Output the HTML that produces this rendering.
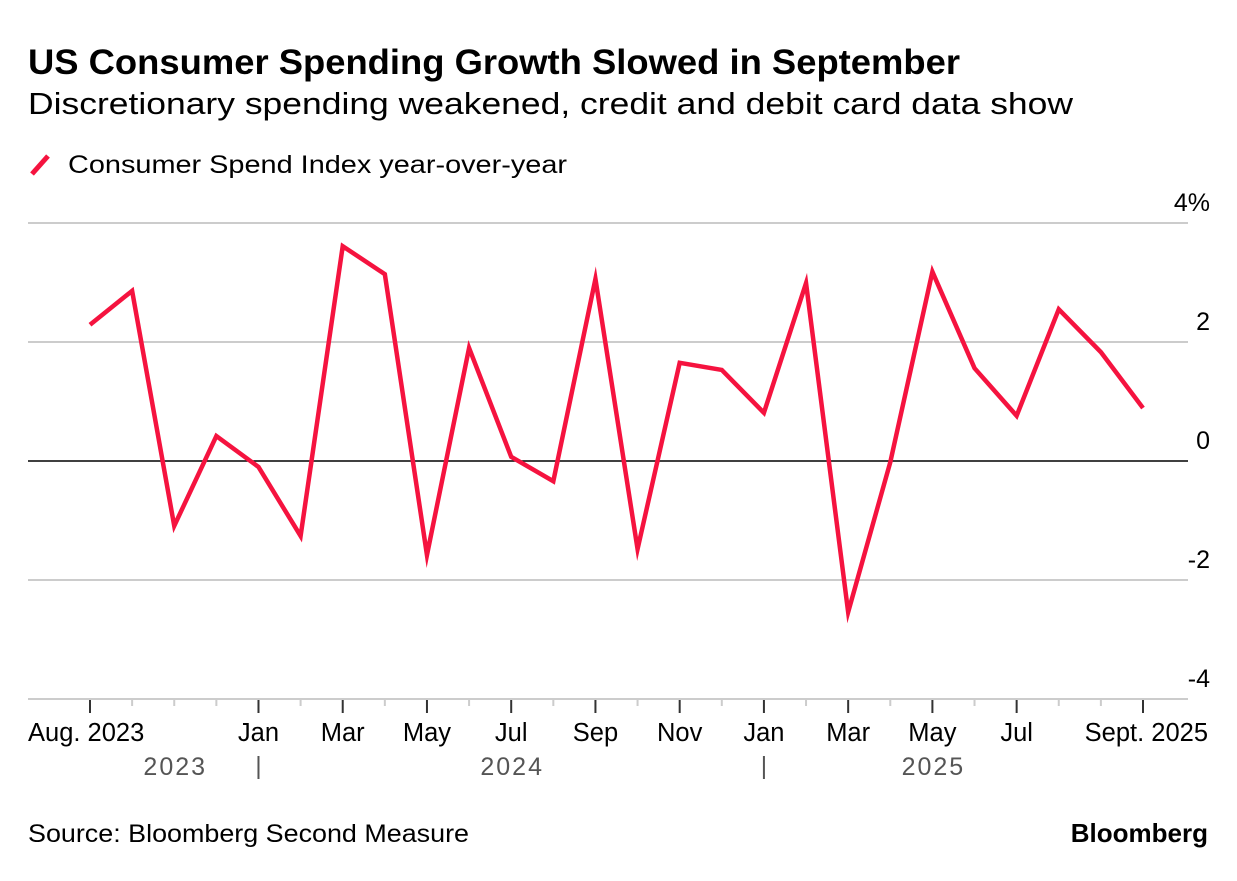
<!DOCTYPE html>
<html><head><meta charset="utf-8"><style>
body{margin:0;background:#fff;width:1237px;height:876px;overflow:hidden;font-family:"Liberation Sans",sans-serif;}
</style></head><body>
<svg width="1237" height="876" xmlns="http://www.w3.org/2000/svg" font-family="Liberation Sans, sans-serif">
<text x="28" y="74" font-size="35" font-weight="bold" fill="#000" textLength="932" lengthAdjust="spacingAndGlyphs">US Consumer Spending Growth Slowed in September</text>
<text x="28" y="114" font-size="31" fill="#000" textLength="1045" lengthAdjust="spacingAndGlyphs">Discretionary spending weakened, credit and debit card data show</text>
<line x1="32" y1="174" x2="48" y2="156" stroke="#f5133f" stroke-width="5"/>
<text x="68" y="173" font-size="25" fill="#000" textLength="499" lengthAdjust="spacingAndGlyphs">Consumer Spend Index year-over-year</text>
<g id="grid"></g>
<g id="xaxis"></g>
<g id="series"></g>
<text x="28" y="842" font-size="25" fill="#000" textLength="441" lengthAdjust="spacingAndGlyphs">Source: Bloomberg Second Measure</text>
<text x="1208" y="842" font-size="26" font-weight="bold" text-anchor="end" fill="#000">Bloomberg</text>
</svg>
<script>
const values=[2.29,2.86,-1.09,0.42,-0.10,-1.26,3.61,3.14,-1.58,1.90,0.07,-0.34,3.06,-1.48,1.65,1.53,0.81,2.99,-2.54,-0.02,3.18,1.56,0.76,2.55,1.83,0.89];
const yTicks=[4,2,0,-2,-4];
const yTickLabels=["4%","2","0","-2","-4"];
const xTickIdx=[0,4,6,8,10,12,14,16,18,20,22,25];
const xTickLabels=["Aug. 2023","Jan","Mar","May","Jul","Sep","Nov","Jan","Mar","May","Jul","Sept. 2025"];
const yearLabels=["2023","2024","2025"];
const yearPosIdx=[2,10,20];
const yearSepIdx=[4,16];
const NS="http://www.w3.org/2000/svg";
const x=i=>90+i*(1143-90)/(values.length-1);
const y=v=>461-v*59.5;
function mk(tag,attrs,parent){const e=document.createElementNS(NS,tag);for(const k in attrs)e.setAttribute(k,attrs[k]);document.getElementById(parent).appendChild(e);return e;}
yTicks.forEach((t,i)=>{
  const l=mk('line',{x1:28,x2:1188,y1:y(t),y2:y(t),stroke:t===0?'#000':'#ccc','stroke-width':t===0?1.5:2},'grid');
  
  
  const tx=mk('text',{x:1210,y:y(t)-12,'font-size':25,'text-anchor':'end',fill:'#000'},'grid');
  tx.textContent=yTickLabels[i];
  
  
});
for(let i=0;i<values.length;i++){
  const maj=xTickIdx.includes(i);
  const l=mk('line',{x1:x(i),x2:x(i),y1:700,y2:maj?713:706,stroke:maj?'#333':'#ccc','stroke-width':2},'xaxis');
  
  
}
xTickIdx.forEach((idx,i)=>{
  const anchor=i===0?'start':(i===xTickIdx.length-1?'end':'middle');
  const px=i===0?28:(i===xTickIdx.length-1?1208:x(idx));
  const t=mk('text',{x:px,y:741,'font-size':25.5,'text-anchor':anchor,fill:'#000'},'xaxis');
  t.textContent=xTickLabels[i];
  
  
});
yearLabels.forEach((yl,i)=>{
  const t=mk('text',{x:x(yearPosIdx[i])+1,y:775,'font-size':25,'text-anchor':'middle',fill:'#555','letter-spacing':'2'},'xaxis');
  t.textContent=yl;
  
  
});
yearSepIdx.forEach(idx=>{
  const l=mk('line',{x1:x(idx),x2:x(idx),y1:756,y2:779,stroke:'#555','stroke-width':2},'xaxis');
  
  
});
const p=mk('polyline',{points:values.map((v,i)=>x(i)+','+y(v)).join(' '),fill:'none',stroke:'#f5133f','stroke-width':4.5,'stroke-linejoin':'miter','stroke-miterlimit':10},'series');


</script>
</body></html>
